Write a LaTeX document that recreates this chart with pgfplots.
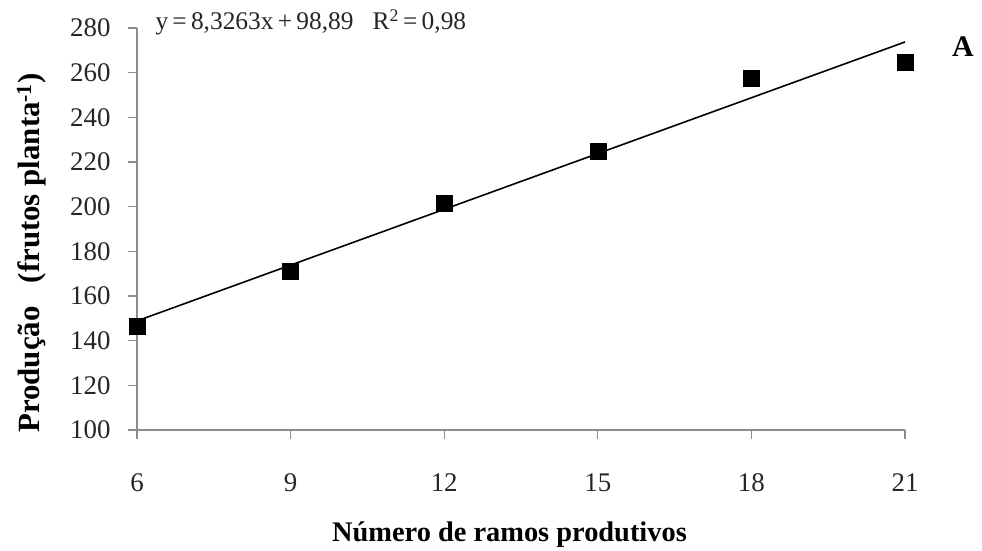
\documentclass[border=0pt]{standalone}
\usepackage{pgfplots}
\pgfplotsset{compat=1.18}
\usepackage{fontspec}
\setmainfont{Liberation Serif}
\begin{document}
\begin{tikzpicture}
\useasboundingbox (-137bp,-121bp) rectangle (845bp,430bp);
\begin{axis}[at={(0,0)}, anchor=south west,
  scale only axis, width=768bp, height=402bp,
  xmin=6, xmax=21, ymin=100, ymax=280,
  xtick={6,9,12,15,18,21}, ytick={100,120,...,280},
  axis x line*=bottom, axis y line*=left,
  axis line style={draw=black!45, line width=1.3bp, -},
  tick style={draw=black!45, line width=1.3bp},
  tick align=outside, major tick length=9bp,
  tick label style={font=\fontsize{27}{30}\selectfont, text=black!85},
  xticklabel style={yshift=-31bp},
  yticklabel style={xshift=-14bp},
  /pgf/number format/assume math mode=true,
  clip=false,
  xlabel={Número de ramos produtivos},
  ylabel={Produção\ \ \ (frutos planta\textsuperscript{-1})},
  xlabel style={font=\bfseries\fontsize{28.5}{30}\selectfont, at={(axis description cs:0.485,0)}, anchor=base, yshift=-111bp},
  ylabel style={font=\bfseries\fontsize{31}{34}\selectfont, at={(axis description cs:0,0.44)}, anchor=base, yshift=97bp},
]
\addplot[black, line width=1.6bp, no marks] coordinates {(6,148.85) (21,273.74)};
\addplot[only marks, mark=square*, mark size=8bp, black] coordinates {
(6,146.5) (9,171) (12,201.5) (15,225) (18,257.5) (21,264.5)};
\end{axis}
\node[anchor=base west, font=\fontsize{25.5}{27}\selectfont, text=black!85] at (15bp,400bp) {y\,=\,8,3263x\,+\,98,89\ \ \ R\textsuperscript{2}\,=\,0,98};
\node[font=\bfseries\fontsize{30}{32}\selectfont] at (826bp,383bp) {A};
\end{tikzpicture}
\end{document}
